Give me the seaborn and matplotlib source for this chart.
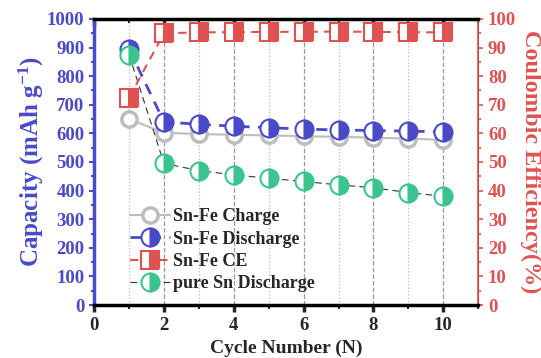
import numpy as np
import pandas as pd
import matplotlib.pyplot as plt
import seaborn as sns
from matplotlib.ticker import MultipleLocator

cycles = [1, 2, 3, 4, 5, 6, 7, 8, 9, 10]
snfe_charge = [650, 602, 598, 595, 593, 590, 588, 585, 582, 577]
snfe_discharge = [895, 640, 632, 625, 620, 615, 612, 610, 608, 605]
snfe_ce = [72.5, 95.0, 95.3, 95.4, 95.5, 95.5, 95.6, 95.5, 95.4, 95.3]
pure_sn_discharge = [875, 495, 470, 455, 443, 432, 420, 410, 393, 380]

blue = '#4a4ac8'
red = '#e05252'
green = '#3cc48f'
gray = '#bdbdbd'

sns.set_style('ticks')
plt.rcParams['font.family'] = ['Liberation Serif', 'DejaVu Serif']
plt.rcParams['font.weight'] = 'bold'
plt.rcParams['mathtext.fontset'] = 'custom'
plt.rcParams['mathtext.rm'] = 'Liberation Serif:bold'
plt.rcParams['mathtext.it'] = 'Liberation Serif:bold'

df = pd.DataFrame({'cycle': cycles, 'charge': snfe_charge, 'discharge': snfe_discharge,
                   'ce': snfe_ce, 'sn': pure_sn_discharge})

fig, ax = plt.subplots(figsize=(5.41, 3.58), dpi=100)
fig.subplots_adjust(left=0.174, right=0.884, top=0.947, bottom=0.148)
ax2 = ax.twinx()

ms = 11
sns.lineplot(data=df, x='cycle', y='charge', ax=ax, color=gray, lw=1.5,
             marker='o', markersize=ms, markerfacecolor='white', markeredgecolor=gray,
             markeredgewidth=2.5, label='Sn-Fe Charge', zorder=3)
sns.lineplot(data=df, x='cycle', y='discharge', ax=ax, color=blue, lw=2, dashes=(4, 3),
             marker='o', markersize=ms + 2, fillstyle='right', markerfacecolor=blue,
             markerfacecoloralt='white', markeredgecolor=blue, markeredgewidth=1.5,
             label='Sn-Fe Discharge', zorder=4)
sns.lineplot(data=df, x='cycle', y='sn', ax=ax, color='#333333', lw=0.8, dashes=(6, 4),
             marker='o', markersize=ms + 2, fillstyle='right', markerfacecolor=green,
             markerfacecoloralt='white', markeredgecolor=green, markeredgewidth=1.5,
             label='pure Sn Discharge', zorder=4)
sns.lineplot(data=df, x='cycle', y='ce', ax=ax2, color=red, lw=1.5, dashes=(4, 3),
             marker='s', markersize=ms + 2, fillstyle='right', markerfacecolor=red,
             markerfacecoloralt='white', markeredgecolor=red, markeredgewidth=1.5,
             label='Sn-Fe CE', zorder=4)

ax.set_xlim(0, 11)
ax.set_ylim(0, 1000)
ax2.set_ylim(0, 100)
ax.xaxis.set_major_locator(MultipleLocator(2))
ax.xaxis.set_minor_locator(MultipleLocator(1))
ax.yaxis.set_major_locator(MultipleLocator(100))
ax.yaxis.set_minor_locator(MultipleLocator(50))
ax2.yaxis.set_major_locator(MultipleLocator(10))
ax2.yaxis.set_minor_locator(MultipleLocator(5))

ax.grid(True, which='major', axis='x', color='#999999', linestyle='--', lw=0.9)
ax.grid(True, which='minor', axis='x', color='#bbbbbb', linestyle=':', lw=0.9)
ax.set_axisbelow(True)

for side in ['top', 'bottom']:
    ax2.spines[side].set_linewidth(2.5)
    ax2.spines[side].set_color('black')
ax2.spines['left'].set_color(blue)
ax2.spines['left'].set_linewidth(2.5)
ax2.spines['right'].set_color(red)
ax2.spines['right'].set_linewidth(1.2)

# top ticks point inward, bottom ticks outward
top = ax.secondary_xaxis('top')
top.xaxis.set_major_locator(MultipleLocator(2))
top.xaxis.set_minor_locator(MultipleLocator(1))
top.tick_params(axis='x', which='both', direction='in', width=2.5, length=5, labeltop=False)
top.tick_params(axis='x', which='minor', length=3, width=1.5)
top.spines['top'].set_visible(False)

ax.tick_params(axis='x', which='both', direction='out', width=2.5, length=5,
               labelsize=13.5)
ax.tick_params(axis='x', which='minor', length=3, width=1.5)
ax.tick_params(axis='y', which='both', colors=blue, width=1.5, direction='out',
               labelsize=13.5)
ax.tick_params(axis='y', which='minor', length=2.5)
ax2.tick_params(axis='y', which='both', colors=red, width=1.2, direction='out',
                labelsize=13.5)
ax2.tick_params(axis='y', which='minor', length=2.5)

ax.set_xlabel('Cycle Number (N)', fontsize=14, fontweight='bold')
ax.set_ylabel(r'Capacity (mAh g$^{-1}$)', fontsize=18, fontweight='bold', color=blue,
              labelpad=1)
ax2.set_ylabel('Coulombic Efficiency(%)', fontsize=17.5, fontweight='bold', color=red,
               rotation=270, labelpad=18)

h1, l1 = ax.get_legend_handles_labels()
h2, l2 = ax2.get_legend_handles_labels()
hs = [h1[0], h1[1], h2[0], h1[2]]
ls = [l1[0], l1[1], l2[0], l1[2]]
if ax2.get_legend():
    ax2.get_legend().remove()
ax.legend(hs, ls, loc='lower left', bbox_to_anchor=(0.06, 0.0), frameon=False,
          fontsize=13, handlelength=2.2, handletextpad=0.2, labelspacing=0.3,
          borderaxespad=0.3)

fig.savefig('out.png', dpi=100)
